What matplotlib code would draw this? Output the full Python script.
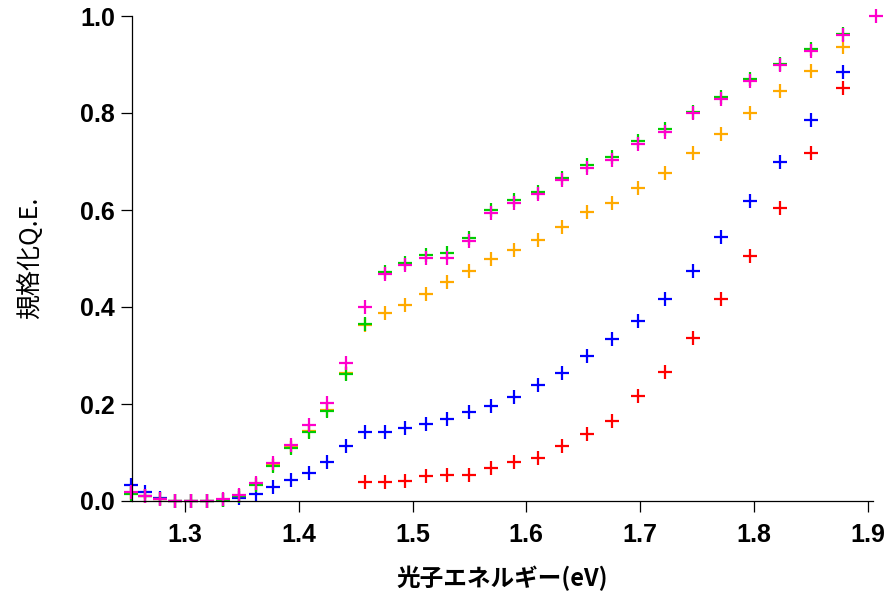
import matplotlib
matplotlib.use("Agg")
import matplotlib.pyplot as plt

# photon energies (eV), 990 nm -> 650 nm in 10 nm steps
energy_all = [1.2524, 1.2651, 1.2782, 1.2915, 1.3051, 1.3190, 1.3332, 1.3477,
              1.3625, 1.3776, 1.3931, 1.4089, 1.4251, 1.4417, 1.4586, 1.4760,
              1.4938, 1.5120, 1.5307, 1.5498, 1.5694, 1.5895, 1.6102, 1.6314,
              1.6531, 1.6755, 1.6984, 1.7220, 1.7463, 1.7712, 1.7969, 1.8233,
              1.8505, 1.8785, 1.9075]
energy_34 = energy_all[:34]
energy_red = energy_all[14:34]

magenta = [0.018, 0.010, 0.004, 0.001, 0.000, 0.000, 0.004, 0.012, 0.037, 0.078,
           0.116, 0.156, 0.203, 0.285, 0.399, 0.468, 0.487, 0.502, 0.502, 0.537,
           0.593, 0.614, 0.632, 0.662, 0.686, 0.704, 0.736, 0.760, 0.799, 0.829,
           0.866, 0.898, 0.928, 0.961, 1.000]
green = [0.015, 0.010, 0.004, 0.001, 0.000, 0.000, 0.002, 0.010, 0.034, 0.073,
         0.109, 0.143, 0.186, 0.261, 0.364, 0.473, 0.491, 0.507, 0.511, 0.542,
         0.599, 0.621, 0.638, 0.667, 0.693, 0.710, 0.742, 0.768, 0.803, 0.834,
         0.870, 0.902, 0.931, 0.963]
orange = [0.016, 0.010, 0.004, 0.001, 0.000, 0.000, 0.002, 0.010, 0.035, 0.075,
          0.111, 0.145, 0.188, 0.263, 0.362, 0.388, 0.405, 0.426, 0.452, 0.475,
          0.499, 0.518, 0.538, 0.565, 0.595, 0.614, 0.646, 0.676, 0.718, 0.756,
          0.801, 0.845, 0.887, 0.937]
blue = [0.034, 0.019, 0.007, 0.001, 0.000, 0.000, 0.002, 0.007, 0.014, 0.029,
        0.043, 0.058, 0.080, 0.114, 0.142, 0.143, 0.150, 0.158, 0.170, 0.184,
        0.196, 0.215, 0.240, 0.263, 0.300, 0.335, 0.371, 0.416, 0.475, 0.544,
        0.619, 0.698, 0.786, 0.885]
red = [0.040, 0.040, 0.042, 0.052, 0.053, 0.054, 0.069, 0.081, 0.089, 0.113,
       0.138, 0.164, 0.217, 0.267, 0.337, 0.416, 0.506, 0.605, 0.717, 0.852]

xticks = [1.3, 1.4, 1.5, 1.6, 1.7, 1.8, 1.9]
yticks = [0.0, 0.2, 0.4, 0.6, 0.8, 1.0]

fig = plt.figure(figsize=(8.96, 5.93), dpi=100)
ax = fig.add_axes([131.7 / 896, 1 - 501 / 593, (873 - 131.7) / 896, 485 / 593])

series = [(energy_red, red, '#ff0000'),
          (energy_34, blue, '#0000ff'),
          (energy_34, orange, '#ffaa00'),
          (energy_34, green, '#00cc00'),
          (energy_all, magenta, '#ff00cc')]
for xs, ys, c in series:
    ax.plot(xs, ys, linestyle='none', marker='+', markersize=10,
            markeredgewidth=1.6, color=c, clip_on=False)

ax.set_xlim(1.2531, 1.9048)
ax.set_ylim(0, 1.0)
ax.set_xticks(xticks)
ax.set_yticks(yticks)
ax.set_xticklabels([f"{v:.1f}" for v in xticks])
ax.set_yticklabels([f"{v:.1f}" for v in yticks])
for s in ['top', 'right']:
    ax.spines[s].set_visible(False)
for s in ['left', 'bottom']:
    ax.spines[s].set_linewidth(0.9)
ax.tick_params(direction='out', length=8, width=0.9, colors='black')
ax.tick_params(axis='x', pad=8)
ax.tick_params(axis='y', pad=4)
for lab in ax.get_xticklabels() + ax.get_yticklabels():
    lab.set_fontfamily(['Liberation Sans', 'DejaVu Sans'])
    lab.set_fontweight('bold')
    lab.set_fontsize(18)

fig.text(502 / 896, 1 - 578 / 593, '光子エネルギー(eV)', ha='center', va='center',
         fontsize=17, fontweight='bold',
         family=['Noto Sans CJK JP', 'DejaVu Sans'])
fig.text(30 / 896, 1 - 258 / 593, '規格化Q.E.', ha='center', va='center',
         rotation=90, fontsize=18,
         family=['Noto Sans CJK JP', 'DejaVu Sans'])

fig.savefig('out.png', dpi=100)
